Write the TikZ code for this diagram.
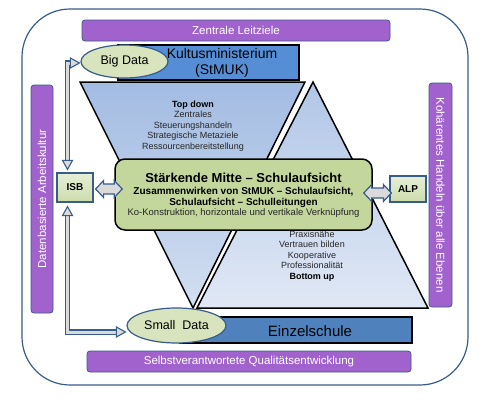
\documentclass[tikz,border=0pt]{standalone}
\usepackage{fontspec}
\setmainfont{Liberation Sans}
\usetikzlibrary{calc,shapes.geometric}
\definecolor{frameblue}{HTML}{385D8A}
\definecolor{purplebar}{HTML}{A262CE}
\definecolor{kmblue}{HTML}{558ED5}
\definecolor{esblue}{HTML}{4F81BD}
\definecolor{ellgreen}{HTML}{D7E4BD}
\definecolor{midgreen}{HTML}{C3D69B}
\definecolor{tdtop}{HTML}{A3BCE2}
\definecolor{tdbot}{HTML}{D3DFF1}
\definecolor{butop}{HTML}{B1C6E7}
\definecolor{bubot}{HTML}{E0E8F5}
\definecolor{arrowgray}{HTML}{DADADA}
\definecolor{txtgray}{HTML}{262626}
\tikzset{
  bar/.style={rectangle, rounded corners=3pt, fill=purplebar, draw=frameblue, line width=0.8pt,
    text=white, font=\fontsize{11.5}{13}\selectfont, inner sep=0pt},
  tri/.style={draw=black, line width=1.5pt, line join=miter},
  levelbox/.style={rectangle, draw=black, line width=1.5pt, inner sep=0pt},
  datael/.style={ellipse, draw=frameblue, line width=1.2pt, fill=ellgreen, inner sep=0pt,
    font=\fontsize{12.5}{14}\selectfont},
  smallbox/.style={rectangle, draw=frameblue, line width=1.2pt, top color=ellgreen!60!white,
    bottom color=midgreen!85!white, font=\bfseries\fontsize{10}{12}\selectfont, inner sep=0pt},
  blockstyle/.style={draw=frameblue, line width=1.2pt, fill=arrowgray, line join=miter},
  hollowshaft/.style={draw=frameblue, line width=1.1pt, double=arrowgray, double distance=3pt,
    line join=miter, shorten <=8pt, shorten >=8pt},
  headstyle/.style={draw=frameblue, line width=1.1pt, fill=arrowgray, line join=miter},
  tritext/.style={align=center, font=\fontsize{9}{10.5}\selectfont, text=txtgray, inner sep=0pt}
}
\newcommand\blockarr[2]{%
  \filldraw[blockstyle] let \p1=#1, \p2=#2 in
   (\x1,\y1) -- (\x1+8pt,\y1+8.5pt) -- (\x1+8pt,\y1+5pt) -- (\x2-8pt,\y1+5pt) -- (\x2-8pt,\y1+8.5pt)
   -- (\x2,\y1) -- (\x2-8pt,\y1-8.5pt) -- (\x2-8pt,\y1-5pt) -- (\x1+8pt,\y1-5pt) -- (\x1+8pt,\y1-8.5pt) -- cycle;}
\begin{document}
\begin{tikzpicture}[x=1pt,y=-1pt]
\useasboundingbox (0,0) rectangle (491,400);
\fill[white] (0,0) rectangle (491,400);
% outer frame
\draw[frameblue, line width=1.2pt, rounded corners=48pt] (22,9) rectangle (468,385);
% purple bars
\node[bar, minimum width=308pt, minimum height=21pt] (leitziele) at (236,30.5) {Zentrale Leitziele};
\node[bar, minimum width=324pt, minimum height=21pt] (qe) at (249,361.5) {Selbstverantwortete Qualitätsentwicklung};
\node[bar, rotate=90, minimum width=228pt, minimum height=22pt] (daten) at (42,199) {Datenbasierte Arbeitskultur};
\node[bar, rotate=-90, minimum width=224pt, minimum height=23pt] (kohaer) at (440.5,195) {Kohärentes Handeln über alle Ebenen};
% triangles
\filldraw[tri, top color=tdtop, bottom color=tdbot] (80,82) -- (305,82) -- (193,308) -- cycle;
\filldraw[tri, top color=butop, bottom color=bubot] (313,82) -- (428,308) -- (197,308) -- cycle;
\node[tritext] (topdown) at (193,126) {\textbf{\color{black}Top down}\\Zentrales\\Steuerungshandeln\\Strategische Metaziele\\Ressourcenbereitstellung};
\node[tritext] (bottomup) at (312,256) {Praxisnähe\\Vertrauen bilden\\Kooperative\\Professionalität\\\textbf{\color{black}Bottom up}};
% Kultusministerium
\node[levelbox, fill=kmblue, minimum width=181pt, minimum height=35pt] (km) at (208.5,62.5) {};
\node[align=center, font=\fontsize{14}{15.5}\selectfont, inner sep=0pt] (kmtext) at (222,63) {Kultusministerium\\(StMUK)};
\node[datael, minimum width=87pt, minimum height=33pt] (bigdata) at (124.5,61.5) {Big Data};
% Einzelschule
\node[levelbox, fill=esblue, minimum width=232pt, minimum height=26pt] (es) at (296,330) {};
\node[font=\fontsize{15}{17}\selectfont, inner sep=0pt] (estext) at (310,331) {Einzelschule};
\node[datael, minimum width=99pt, minimum height=35pt] (smalldata) at (176.5,325.5) {Small\ \ Data};
% Staerkende Mitte
\node[levelbox, fill=midgreen, rounded corners=10pt, minimum width=257pt, minimum height=71pt] (mitte) at (243.5,194.5) {};
\node[font=\bfseries\fontsize{13}{15}\selectfont, inner sep=0pt] (m1) at (243.5,178) {Stärkende Mitte – Schulaufsicht};
\node[font=\bfseries\fontsize{10}{12}\selectfont, inner sep=0pt] (m2) at (243.5,192) {Zusammenwirken von StMUK – Schulaufsicht,};
\node[font=\bfseries\fontsize{10}{12}\selectfont, inner sep=0pt] (m3) at (243.5,202.5) {Schulaufsicht – Schulleitungen};
\node[font=\fontsize{9.5}{11}\selectfont, text=txtgray, inner sep=0pt] (m4) at (243.5,213) {Ko-Konstruktion, horizontale und vertikale Verknüpfung};
% ISB / ALP
\node[smallbox, minimum width=36pt, minimum height=29pt] (isb) at (75,187.5) {ISB};
\node[smallbox, minimum width=36pt, minimum height=26pt] (alp) at (408,189) {ALP};
% block arrows
\blockarr{($(isb.east)+(2,1.5)$)}{($(mitte.west)+(8,0)$)}
\blockarr{($(mitte.east)+(-9,-1.5)$)}{($(alp.west)+(2,0)$)}
% hollow connectors
\coordinate (isbtop) at ($(isb.north)+(-7.5,-3)$);
\coordinate (isbbot) at ($(isb.south)+(-7.5,4)$);
\coordinate (bdin) at ($(bigdata.west)+(-1,1.5)$);
\coordinate (sdin) at ($(smalldata.west)+(-1,6.5)$);
\draw[hollowshaft] (bdin) -| (isbtop);
\draw[hollowshaft] (isbbot) |- (sdin);
\filldraw[headstyle] (isbtop) -- ++(-5,-9) -- ++(10,0) -- cycle;
\filldraw[headstyle] (bdin) -- ++(-9,-5) -- ++(0,10) -- cycle;
\filldraw[headstyle] (isbbot) -- ++(-5,9) -- ++(10,0) -- cycle;
\filldraw[headstyle] (sdin) -- ++(-9,-5) -- ++(0,10) -- cycle;
\end{tikzpicture}
\end{document}
